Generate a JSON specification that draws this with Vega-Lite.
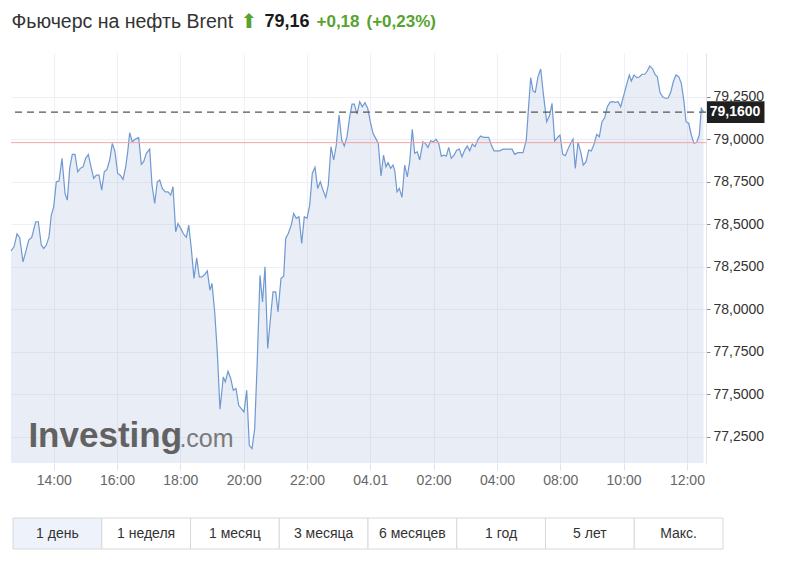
{
  "$schema": "https://vega.github.io/schema/vega-lite/v6.json",
  "padding": {"left": 8, "top": 7, "right": 0, "bottom": 0},
  "background": "white",
  "config": {
    "font": "Liberation Sans",
    "view": {"stroke": null},
    "locale": {"number": {"decimal": ",", "thousands": " ", "grouping": [3], "currency": ["", ""]}}
  },
  "datasets": {
    "header": [
      {"part": "name", "t": "Фьючерс на нефть Brent"},
      {"part": "arrow", "t": "⬆"},
      {"part": "price", "t": "79,16"},
      {"part": "chg", "t": "+0,18"},
      {"part": "pct", "t": "(+0,23%)"}
    ],
    "periods": [
      {"p": "1 день"}, {"p": "1 неделя"}, {"p": "1 месяц"}, {"p": "3 месяца"},
      {"p": "6 месяцев"}, {"p": "1 год"}, {"p": "5 лет"}, {"p": "Макс."}
    ],
    "brent": [
      {"h":0.651,"v":78.344},{"h":0.746,"v":78.368},{"h":0.841,"v":78.444},{"h":0.926,"v":78.423},{"h":1.030,"v":78.279},
      {"h":1.116,"v":78.338},{"h":1.210,"v":78.407},{"h":1.305,"v":78.423},{"h":1.431,"v":78.515},{"h":1.513,"v":78.515},
      {"h":1.608,"v":78.378},{"h":1.684,"v":78.358},{"h":1.766,"v":78.378},{"h":1.851,"v":78.426},{"h":1.924,"v":78.554},
      {"h":2.000,"v":78.603},{"h":2.082,"v":78.750},{"h":2.167,"v":78.754},{"h":2.262,"v":78.888},{"h":2.357,"v":78.682},
      {"h":2.429,"v":78.642},{"h":2.505,"v":78.829},{"h":2.587,"v":78.911},{"h":2.672,"v":78.911},{"h":2.758,"v":78.809},
      {"h":2.840,"v":78.829},{"h":2.925,"v":78.838},{"h":3.010,"v":78.888},{"h":3.093,"v":78.911},{"h":3.178,"v":78.838},
      {"h":3.263,"v":78.770},{"h":3.345,"v":78.789},{"h":3.430,"v":78.789},{"h":3.516,"v":78.701},{"h":3.598,"v":78.809},
      {"h":3.683,"v":78.823},{"h":3.768,"v":78.878},{"h":3.851,"v":78.976},{"h":3.936,"v":78.926},{"h":4.021,"v":78.799},
      {"h":4.103,"v":78.789},{"h":4.189,"v":78.764},{"h":4.274,"v":78.838},{"h":4.337,"v":78.926},{"h":4.400,"v":79.038},
      {"h":4.482,"v":78.985},{"h":4.577,"v":79.001},{"h":4.684,"v":79.009},{"h":4.767,"v":78.852},{"h":4.842,"v":78.868},
      {"h":4.925,"v":78.917},{"h":5.032,"v":78.942},{"h":5.105,"v":78.731},{"h":5.190,"v":78.623},{"h":5.272,"v":78.750},
      {"h":5.348,"v":78.760},{"h":5.430,"v":78.711},{"h":5.525,"v":78.691},{"h":5.610,"v":78.691},{"h":5.695,"v":78.672},
      {"h":5.768,"v":78.721},{"h":5.853,"v":78.456},{"h":5.926,"v":78.505},{"h":6.011,"v":78.476},{"h":6.093,"v":78.446},
      {"h":6.188,"v":78.423},{"h":6.264,"v":78.495},{"h":6.346,"v":78.358},{"h":6.431,"v":78.182},{"h":6.516,"v":78.303},
      {"h":6.599,"v":78.191},{"h":6.684,"v":78.191},{"h":6.769,"v":78.205},{"h":6.851,"v":78.226},{"h":6.936,"v":78.113},
      {"h":7.000,"v":78.152},{"h":7.085,"v":77.985},{"h":7.167,"v":77.750},{"h":7.252,"v":77.413},{"h":7.357,"v":77.603},
      {"h":7.420,"v":77.574},{"h":7.505,"v":77.636},{"h":7.590,"v":77.594},{"h":7.672,"v":77.525},{"h":7.758,"v":77.535},
      {"h":7.843,"v":77.436},{"h":7.925,"v":77.417},{"h":8.010,"v":77.397},{"h":8.096,"v":77.525},{"h":8.178,"v":77.201},
      {"h":8.263,"v":77.182},{"h":8.348,"v":77.299},{"h":8.430,"v":77.701},{"h":8.516,"v":78.201},{"h":8.595,"v":78.044},
      {"h":8.674,"v":78.250},{"h":8.759,"v":77.770},{"h":8.841,"v":77.936},{"h":8.926,"v":78.103},{"h":9.012,"v":78.103},
      {"h":9.084,"v":77.985},{"h":9.179,"v":78.182},{"h":9.264,"v":78.195},{"h":9.327,"v":78.417},{"h":9.409,"v":78.446},
      {"h":9.504,"v":78.495},{"h":9.580,"v":78.564},{"h":9.662,"v":78.535},{"h":9.748,"v":78.544},{"h":9.833,"v":78.388},
      {"h":9.915,"v":78.544},{"h":10.000,"v":78.535},{"h":10.086,"v":78.613},{"h":10.168,"v":78.799},{"h":10.253,"v":78.835},
      {"h":10.338,"v":78.711},{"h":10.420,"v":78.750},{"h":10.506,"v":78.701},{"h":10.591,"v":78.658},{"h":10.673,"v":78.731},
      {"h":10.758,"v":78.956},{"h":10.844,"v":78.878},{"h":10.926,"v":78.966},{"h":11.011,"v":79.142},{"h":11.096,"v":78.995},
      {"h":11.178,"v":78.960},{"h":11.264,"v":79.015},{"h":11.349,"v":79.132},{"h":11.422,"v":79.207},{"h":11.494,"v":79.207},
      {"h":11.580,"v":79.148},{"h":11.665,"v":79.221},{"h":11.747,"v":79.191},{"h":11.832,"v":79.215},{"h":11.918,"v":79.182},
      {"h":12.000,"v":79.103},{"h":12.085,"v":79.035},{"h":12.170,"v":79.005},{"h":12.252,"v":78.976},{"h":12.338,"v":78.784},
      {"h":12.417,"v":78.907},{"h":12.495,"v":78.838},{"h":12.559,"v":78.862},{"h":12.644,"v":78.829},{"h":12.717,"v":78.848},
      {"h":12.770,"v":78.819},{"h":12.843,"v":78.691},{"h":12.916,"v":78.711},{"h":13.001,"v":78.658},{"h":13.086,"v":78.848},
      {"h":13.168,"v":78.779},{"h":13.244,"v":78.868},{"h":13.326,"v":79.058},{"h":13.402,"v":78.917},{"h":13.484,"v":78.926},
      {"h":13.560,"v":78.878},{"h":13.664,"v":78.985},{"h":13.737,"v":78.976},{"h":13.822,"v":78.952},{"h":13.907,"v":78.991},
      {"h":13.989,"v":78.985},{"h":14.075,"v":79.001},{"h":14.160,"v":78.976},{"h":14.242,"v":78.901},{"h":14.327,"v":78.907},
      {"h":14.400,"v":78.901},{"h":14.476,"v":78.952},{"h":14.558,"v":78.888},{"h":14.643,"v":78.907},{"h":14.729,"v":78.936},
      {"h":14.811,"v":78.942},{"h":14.896,"v":78.897},{"h":14.981,"v":78.936},{"h":15.063,"v":78.960},{"h":15.139,"v":78.932},
      {"h":15.221,"v":78.972},{"h":15.307,"v":78.956},{"h":15.401,"v":78.999},{"h":15.487,"v":79.019},{"h":15.569,"v":79.011},
      {"h":15.739,"v":79.011},{"h":15.821,"v":78.966},{"h":15.907,"v":78.932},{"h":16.087,"v":78.932},{"h":16.191,"v":78.942},
      {"h":16.475,"v":78.942},{"h":16.561,"v":78.911},{"h":16.665,"v":78.921},{"h":16.823,"v":78.921},{"h":16.927,"v":78.995},
      {"h":17.003,"v":79.201},{"h":17.066,"v":79.362},{"h":17.139,"v":79.284},{"h":17.211,"v":79.276},{"h":17.297,"v":79.368},
      {"h":17.382,"v":79.413},{"h":17.464,"v":79.270},{"h":17.571,"v":79.103},{"h":17.666,"v":79.142},{"h":17.739,"v":79.211},
      {"h":17.824,"v":78.989},{"h":17.906,"v":79.009},{"h":17.991,"v":79.025},{"h":18.077,"v":78.911},{"h":18.159,"v":78.903},
      {"h":18.244,"v":78.942},{"h":18.329,"v":78.976},{"h":18.402,"v":79.001},{"h":18.475,"v":78.829},{"h":18.560,"v":78.982},
      {"h":18.645,"v":78.926},{"h":18.727,"v":78.848},{"h":18.813,"v":78.868},{"h":18.898,"v":78.936},{"h":18.980,"v":78.931},
      {"h":19.065,"v":78.970},{"h":19.151,"v":79.029},{"h":19.233,"v":79.015},{"h":19.318,"v":79.103},{"h":19.403,"v":79.126},
      {"h":19.486,"v":79.191},{"h":19.571,"v":79.217},{"h":19.656,"v":79.221},{"h":19.738,"v":79.217},{"h":19.824,"v":79.221},
      {"h":19.909,"v":79.191},{"h":20.013,"v":79.264},{"h":20.098,"v":79.323},{"h":20.180,"v":79.378},{"h":20.244,"v":79.342},
      {"h":20.329,"v":79.378},{"h":20.414,"v":79.362},{"h":20.496,"v":79.366},{"h":20.581,"v":79.382},{"h":20.667,"v":79.382},
      {"h":20.749,"v":79.401},{"h":20.825,"v":79.431},{"h":20.919,"v":79.413},{"h":21.002,"v":79.378},{"h":21.065,"v":79.368},
      {"h":21.150,"v":79.274},{"h":21.235,"v":79.250},{"h":21.318,"v":79.241},{"h":21.403,"v":79.241},{"h":21.488,"v":79.276},
      {"h":21.570,"v":79.338},{"h":21.655,"v":79.378},{"h":21.741,"v":79.368},{"h":21.823,"v":79.329},{"h":21.908,"v":79.221},
      {"h":21.971,"v":79.103},{"h":22.057,"v":79.094},{"h":22.139,"v":79.025},{"h":22.224,"v":78.976},{"h":22.309,"v":78.982},
      {"h":22.391,"v":79.025},{"h":22.455,"v":79.182},{"h":22.524,"v":79.161}
    ]
  },
  "spacing": 16,
  "vconcat": [
    {
      "spacing": 6,
      "hconcat": [
        {"width": 1, "height": 30, "data": {"name": "header"}, "transform": [{"filter": "datum.part === 'name'"}],
         "mark": {"type": "text", "align": "left", "baseline": "middle", "fontSize": 19.5, "color": "#333333"},
         "encoding": {"text": {"field": "t"}}},
        {"width": 1, "height": 30, "data": {"name": "header"}, "transform": [{"filter": "datum.part === 'arrow'"}],
         "mark": {"type": "text", "align": "left", "baseline": "middle", "fontSize": 20, "font": "DejaVu Sans", "color": "#56a32e"},
         "encoding": {"text": {"field": "t"}}},
        {"width": 1, "height": 30, "data": {"name": "header"}, "transform": [{"filter": "datum.part === 'price'"}],
         "mark": {"type": "text", "align": "left", "baseline": "middle", "fontSize": 18, "fontWeight": "bold", "color": "#1a1a1a"},
         "encoding": {"text": {"field": "t"}}},
        {"width": 1, "height": 30, "data": {"name": "header"}, "transform": [{"filter": "datum.part === 'chg'"}],
         "mark": {"type": "text", "align": "left", "baseline": "middle", "fontSize": 17, "fontWeight": "bold", "color": "#56a32e"},
         "encoding": {"text": {"field": "t"}}},
        {"width": 1, "height": 30, "data": {"name": "header"}, "transform": [{"filter": "datum.part === 'pct'"}],
         "mark": {"type": "text", "align": "left", "baseline": "middle", "fontSize": 17, "fontWeight": "bold", "color": "#56a32e"},
         "encoding": {"text": {"field": "t"}}}
      ]
    },
    {
      "spacing": 55,
      "bounds": "flush",
      "vconcat": [
        {
          "width": 695,
          "height": 410,
          "layer": [
            {
              "data": {"name": "brent"},
              "mark": {"type": "area", "color": "#9fb0d3", "opacity": 0.23},
              "encoding": {
                "x": {"field": "h", "type": "quantitative",
                      "scale": {"domain": [0.651, 22.603], "nice": false, "zero": false},
                      "axis": {"title": null, "orient": "bottom", "values": [2,4,6,8,10,12,14,16,18,20,22],
                               "labelExpr": "['14:00','16:00','18:00','20:00','22:00','04.01','02:00','04:00','08:00','10:00','12:00'][round(datum.value/2)-1]",
                               "grid": true, "gridColor": "#eef0f5", "domain": false,
                               "ticks": true, "tickSize": 7, "tickColor": "#e2e5ec",
                               "labelFontSize": 14, "labelColor": "#666666", "labelPadding": 3}},
                "y": {"field": "v", "type": "quantitative",
                      "scale": {"domain": [77.097, 79.507], "nice": false, "zero": false},
                      "axis": {"title": null, "orient": "right", "values": [77.25,77.5,77.75,78,78.25,78.5,78.75,79,79.25],
                               "format": ".4f",
                               "grid": true, "gridColor": "#eef0f5", "domain": true, "domainColor": "#dfe3ec",
                               "ticks": true, "tickSize": 4, "tickColor": "#8a8a8a",
                               "labelFontSize": 14, "labelColor": "#333333", "labelPadding": 3}},
                "y2": {"datum": 77.097}
              }
            },
            {
              "data": {"values": [{"t": "Investing"}]},
              "mark": {"type": "text", "align": "left", "baseline": "alphabetic", "fontSize": 35, "fontWeight": "bold", "color": "#626262"},
              "encoding": {"x": {"datum": 1.2}, "y": {"datum": 77.191}, "text": {"field": "t"}}
            },
            {
              "data": {"values": [{"t": ".com"}]},
              "mark": {"type": "text", "align": "left", "baseline": "alphabetic", "fontSize": 25, "color": "#7a7a7a"},
              "encoding": {"x": {"datum": 5.97}, "y": {"datum": 77.191}, "text": {"field": "t"}}
            },
            {
              "data": {"name": "brent"},
              "mark": {"type": "line", "color": "#7099d1", "strokeWidth": 1.2},
              "encoding": {
                "x": {"field": "h", "type": "quantitative"},
                "y": {"field": "v", "type": "quantitative"}
              }
            },
            {
              "data": {"values": [{"prev": 78.98}]},
              "mark": {"type": "rule", "color": "#f4a3a3", "strokeWidth": 1},
              "encoding": {"y": {"field": "prev", "type": "quantitative"}}
            },
            {
              "data": {"values": [{"last": 79.16}]},
              "mark": {"type": "rule", "color": "#555555", "strokeWidth": 1.3, "strokeDash": [7, 5]},
              "encoding": {"y": {"field": "last", "type": "quantitative"}}
            },
            {
              "data": {"values": [{"last": 79.16}]},
              "mark": {"type": "rect", "color": "#1f1f1f"},
              "encoding": {"x": {"datum": 22.634}, "x2": {"datum": 24.45}, "y": {"datum": 79.224}, "y2": {"datum": 79.095}}
            },
            {
              "data": {"values": [{"last": 79.16}]},
              "mark": {"type": "text", "align": "left", "baseline": "middle", "fontSize": 14, "fontWeight": "bold", "color": "#ffffff"},
              "encoding": {"x": {"datum": 22.72}, "y": {"field": "last", "type": "quantitative"},
                           "text": {"field": "last", "type": "quantitative", "format": ".4f"}}
            }
          ]
        },
        {
          "width": 712,
          "height": 31,
          "data": {"name": "periods"},
          "layer": [
            {
              "mark": {"type": "rect", "stroke": "#d8d8d8", "strokeWidth": 1},
              "encoding": {
                "x": {"field": "p", "type": "nominal", "sort": null,
                      "scale": {"range": [2, 712], "paddingInner": 0, "paddingOuter": 0}, "axis": null},
                "fill": {"condition": {"test": "datum.p === '1 день'", "value": "#eef3fb"}, "value": "#ffffff"}
              }
            },
            {
              "mark": {"type": "text", "fontSize": 14, "color": "#333333"},
              "encoding": {
                "x": {"field": "p", "type": "nominal", "sort": null},
                "text": {"field": "p"}
              }
            }
          ]
        }
      ]
    }
  ]
}
